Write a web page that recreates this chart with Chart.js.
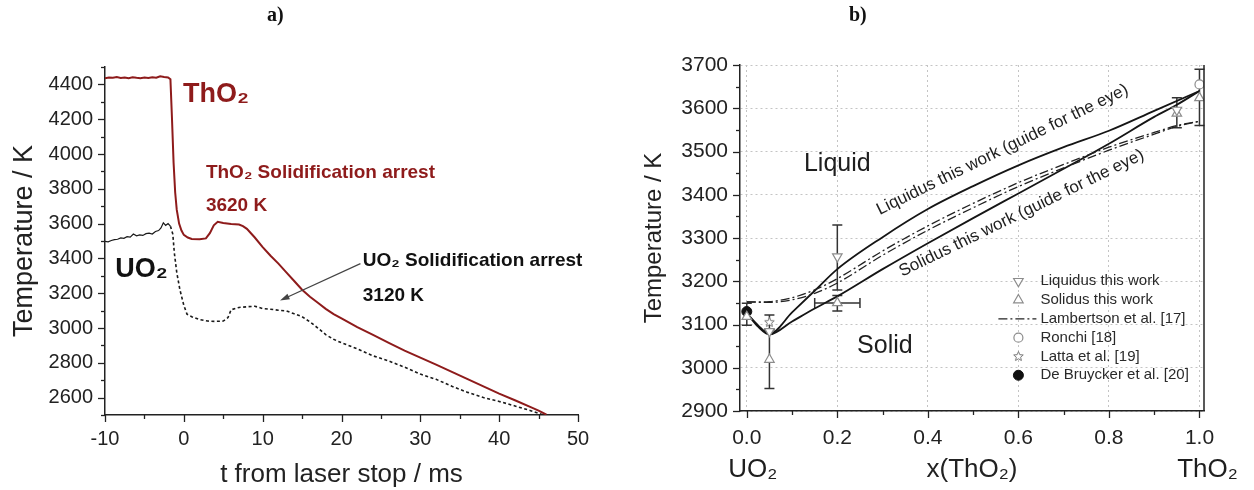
<!DOCTYPE html>
<html>
<head>
<meta charset="utf-8">
<script src="https://cdn.jsdelivr.net/npm/chart.js@4.4.1/dist/chart.umd.min.js"></script>
<style>
  html, body { margin: 0; padding: 0; background: #fff; }
  #wrap { position: relative; width: 1254px; height: 490px; overflow: hidden; }
  canvas { position: absolute; top: 0; }
  .tag { position: absolute; top: 3px; z-index: 2; font: bold 20px 'Liberation Serif', 'Times New Roman', serif; color: #111; }
</style>
</head>
<body>
<div id="wrap">
  <canvas id="chartA" style="left:0" width="620" height="490"></canvas>
  <canvas id="chartB" style="left:620px" width="634" height="490"></canvas>
  <div class="tag" style="left:267px">a)</div>
  <div class="tag" style="left:849px">b)</div>
</div>
<script>
// ---------- panel a : cooling curves ----------
const tTicksA = [-10, 0, 10, 20, 30, 40, 50];
const tMinorA = [-5, 5, 15, 25, 35, 45];
const tempTicksA = [2600, 2800, 3000, 3200, 3400, 3600, 3800, 4000, 4200, 4400];
const tempMinorA = [2500, 2700, 2900, 3100, 3300, 3500, 3700, 3900, 4100, 4300, 4500];

// ThO2 thermogram
const thTime = [-10, -9.5, -9, -8.5, -8, -7.5, -7, -6.5, -6, -5.5, -5, -4.5, -4, -3.5, -3, -2.5, -2, -1.7, -1.5, -1.3,
  -1.1, -0.9, -0.6, -0.3, 0, 0.5, 1, 2, 2.8, 3.3, 3.8, 4.3, 5, 6, 7, 7.5, 8, 9, 10, 11,
  12, 13, 14, 15, 16, 17, 18, 19, 20, 22, 24, 26, 28, 30, 32, 34, 36, 38, 40, 42, 44, 45, 46];
const thTemp = [4435, 4440, 4438, 4442, 4437, 4440, 4436, 4441, 4438, 4436, 4439, 4437, 4441, 4438, 4447, 4443, 4440, 4430, 4200, 3950,
  3780, 3680, 3600, 3560, 3535, 3520, 3512, 3510, 3515, 3545, 3590, 3610, 3603, 3598, 3595, 3585, 3570, 3520, 3465, 3415,
  3370, 3320, 3270, 3220, 3180, 3145, 3110, 3080, 3055, 3005, 2960, 2915, 2870, 2830, 2790, 2748, 2706, 2665, 2623, 2585, 2545, 2525, 2502];

// UO2 thermogram, laser on (solid)
const uoTime = [-10, -9.6, -9.2, -8.8, -8.4, -8, -7.6, -7.2, -6.8, -6.4, -6, -5.6, -5.2, -4.8, -4.4, -4, -3.6, -3.2, -2.9, -2.6, -2.3, -2, -1.7];
const uoTemp = [3498, 3495, 3503, 3508, 3510, 3518, 3515, 3525, 3522, 3540, 3530, 3535, 3532, 3542, 3545, 3540, 3555, 3560, 3575, 3605, 3590, 3600, 3585];
// UO2 thermogram, cooling (dashed)
const uoCoolTime = [-1.7, -1.4, -1.2, -0.9, -0.5, 0, 0.4, 1, 2, 3, 4, 5, 5.6, 6, 7, 8, 9, 10, 11, 12, 13, 14, 15, 16, 17, 18, 19, 20,
  22, 24, 26, 28, 30, 32, 34, 36, 38, 40, 42, 44, 45.5];
const uoCoolTemp = [3585, 3540, 3430, 3320, 3220, 3130, 3080, 3065, 3048, 3040, 3038, 3040, 3060, 3105, 3118, 3122, 3125, 3112, 3108, 3102, 3098, 3082, 3065, 3035, 3000, 2962, 2935, 2915,
  2880, 2840, 2810, 2775, 2735, 2705, 2665, 2630, 2600, 2578, 2552, 2525, 2502];

// ---------- panel b : phase diagram ----------
const xTicksB = [0, 0.2, 0.4, 0.6, 0.8, 1.0];
const xMinorB = [0.1, 0.3, 0.5, 0.7, 0.9];
const tempTicksB = [2900, 3000, 3100, 3200, 3300, 3400, 3500, 3600, 3700];
const tempMinorB = [2950, 3050, 3150, 3250, 3350, 3450, 3550, 3650];

const liqCurveX = [0, 0.025, 0.05, 0.1, 0.15, 0.2, 0.3, 0.4, 0.5, 0.6, 0.7, 0.8, 0.9, 1.0];
const liqCurveT = [3126, 3098, 3078, 3128, 3178, 3228, 3302, 3367, 3420, 3468, 3510, 3548, 3594, 3640];
const solCurveX = [0, 0.025, 0.05, 0.1, 0.15, 0.2, 0.3, 0.4, 0.5, 0.6, 0.7, 0.8, 0.9, 0.95, 1.0];
const solCurveT = [3126, 3095, 3077, 3107, 3137, 3165, 3228, 3288, 3346, 3403, 3460, 3518, 3580, 3608, 3640];
const lambLiqX = [0, 0.05, 0.1, 0.15, 0.2, 0.3, 0.4, 0.5, 0.6, 0.7, 0.8, 0.9, 0.95, 1.0];
const lambLiqT = [3152, 3153, 3162, 3180, 3206, 3270, 3328, 3380, 3428, 3470, 3510, 3544, 3560, 3570];
const lambSolX = [0, 0.05, 0.1, 0.15, 0.2, 0.3, 0.4, 0.5, 0.6, 0.7, 0.8, 0.9, 0.95, 1.0];
const lambSolT = [3152, 3151, 3157, 3172, 3196, 3260, 3318, 3370, 3419, 3462, 3503, 3540, 3558, 3570];

const liqX = [0.05, 0.2, 0.95];
const liqT = [3084, 3257, 3596];
const liqLo = [3084, 3180, 3596];
const liqHi = [3084, 3330, 3596];
const solX = [0, 0.05, 0.2, 0.95, 1.0];
const solT = [3118, 3019, 3150, 3588, 3624];
const solLo = [3098, 2952, 3131, 3555, 3560];
const solHi = [3149, 3088, 3167, 3624, 3690];
const solXErr = [0, 0, 0.05, 0, 0];
const ronchiX = [1.0];
const ronchiT = [3655];
const lattaX = [0.05];
const lattaT = [3105];
const lattaLo = [3088];
const lattaHi = [3122];
const bruyckerX = [0];
const bruyckerT = [3130];

const pts = (xs, ys) => xs.map((x, i) => ({ x: x, y: ys[i] }));

Chart.defaults.font.family = "'Liberation Sans', Arial, sans-serif";
Chart.defaults.color = '#1e1e1e';

// outward tick marks, long on labelled values, short in between
const tickMarks = {
  id: 'tickMarks',
  afterDraw(chart, args, opts) {
    const ctx = chart.ctx;
    ctx.save();
    ctx.strokeStyle = '#222';
    ctx.lineWidth = 1.3;
    ['x', 'y'].forEach(id => {
      const s = chart.scales[id];
      const marks = opts[id].major.map(v => [v, 7]).concat(opts[id].minor.map(v => [v, 4]));
      marks.forEach(([v, len]) => {
        const p = Math.round(s.getPixelForValue(v)) + 0.5;
        ctx.beginPath();
        if (id === 'x') { ctx.moveTo(p, s.top); ctx.lineTo(p, s.top + len); }
        else { ctx.moveTo(s.right, p); ctx.lineTo(s.right - len, p); }
        ctx.stroke();
      });
    });
    ctx.restore();
  }
};

// free text and arrows placed in data coordinates
const notes = {
  id: 'notes',
  afterDatasetsDraw(chart, args, opts) {
    const { ctx } = chart;
    const x = chart.scales.x, y = chart.scales.y;
    (opts.items || []).forEach(n => {
      ctx.save();
      ctx.font = n.font;
      ctx.fillStyle = n.color || '#1e1e1e';
      ctx.textAlign = n.align || 'left';
      ctx.textBaseline = 'middle';
      const px = x.getPixelForValue(n.x) + (n.dx || 0);
      const py = n.yPx !== undefined ? n.yPx : y.getPixelForValue(n.y);
      ctx.translate(px, py);
      if (n.angle) ctx.rotate(n.angle * Math.PI / 180);
      ctx.fillText(n.text, 0, 0);
      ctx.restore();
    });
    (opts.arrows || []).forEach(a => {
      const x1 = x.getPixelForValue(a.from[0]), y1 = y.getPixelForValue(a.from[1]);
      const x2 = x.getPixelForValue(a.to[0]), y2 = y.getPixelForValue(a.to[1]);
      const ang = Math.atan2(y2 - y1, x2 - x1);
      ctx.save();
      ctx.strokeStyle = '#444';
      ctx.fillStyle = '#444';
      ctx.lineWidth = 1.2;
      ctx.beginPath();
      ctx.moveTo(x1, y1);
      ctx.lineTo(x2 - 6 * Math.cos(ang), y2 - 6 * Math.sin(ang));
      ctx.stroke();
      ctx.beginPath();
      ctx.moveTo(x2, y2);
      ctx.lineTo(x2 - 10 * Math.cos(ang - 0.3), y2 - 10 * Math.sin(ang - 0.3));
      ctx.lineTo(x2 - 10 * Math.cos(ang + 0.3), y2 - 10 * Math.sin(ang + 0.3));
      ctx.closePath();
      ctx.fill();
      ctx.restore();
    });
  }
};

new Chart(document.getElementById('chartA'), {
  type: 'line',
  data: {
    datasets: [
      { label: 'ThO2', data: pts(thTime, thTemp), borderColor: '#8e1b1b', borderWidth: 2, pointRadius: 0 },
      { label: 'UO2', data: pts(uoTime, uoTemp), borderColor: '#1a1a1a', borderWidth: 1.2, pointRadius: 0 },
      { label: 'UO2 cooling', data: pts(uoCoolTime, uoCoolTemp), borderColor: '#1a1a1a', borderWidth: 1.6, borderDash: [3, 2.5], pointRadius: 0 }
    ]
  },
  options: {
    responsive: false,
    animation: false,
    layout: { padding: { top: 67, right: 42, left: 0, bottom: 0 } },
    plugins: {
      legend: { display: false },
      tooltip: { enabled: false },
      tickMarks: { x: { major: tTicksA, minor: tMinorA }, y: { major: tempTicksA, minor: tempMinorA } },
      notes: {
        items: [
          { text: 'ThO\u2082', x: -0.1, y: 4340, font: 'bold 27px "Liberation Sans", Arial', color: '#8e1b1b' },
          { text: 'ThO\u2082 Solidification arrest', x: 2.8, y: 3895, font: 'bold 19px "Liberation Sans", Arial', color: '#8e1b1b' },
          { text: '3620 K', x: 2.8, y: 3705, font: 'bold 19px "Liberation Sans", Arial', color: '#8e1b1b' },
          { text: 'UO\u2082', x: -8.7, y: 3335, font: 'bold 27px "Liberation Sans", Arial', color: '#111' },
          { text: 'UO\u2082 Solidification arrest', x: 22.7, y: 3385, font: 'bold 19px "Liberation Sans", Arial', color: '#111' },
          { text: '3120 K', x: 22.7, y: 3185, font: 'bold 19px "Liberation Sans", Arial', color: '#111' }
        ],
        arrows: [ { from: [22.4, 3370], to: [12.2, 3158] } ]
      }
    },
    scales: {
      x: {
        type: 'linear', min: -10, max: 50,
        afterBuildTicks: s => { s.ticks = tTicksA.map(v => ({ value: v })); },
        afterFit: s => { s.height = 75; },
        grid: { display: false, drawTicks: false },
        border: { display: true, color: '#222', width: 1.5 },
        ticks: { padding: 12, font: { size: 20 }, color: '#222', callback: v => String(v) },
        title: { display: true, text: 't from laser stop / ms', font: { size: 26 }, color: '#222', padding: { top: 0, bottom: 0 } }
      },
      y: {
        min: 2500, max: 4500,
        afterBuildTicks: s => { s.ticks = tempTicksA.map(v => ({ value: v })); },
        afterFit: s => { s.width = 105; },
        grid: { display: false, drawTicks: false },
        border: { display: true, color: '#222', width: 1.5 },
        ticks: { padding: 12, font: { size: 20 }, color: '#222', callback: v => String(v) },
        title: { display: true, text: 'Temperature / K', font: { size: 27 }, color: '#222', padding: { top: 8, bottom: 0 } }
      }
    }
  },
  plugins: [tickMarks, notes]
});

// ---------- panel b helpers ----------
function starImage(r, color) {
  const c = document.createElement('canvas');
  c.width = c.height = 2 * r + 3;
  const g = c.getContext('2d');
  g.beginPath();
  for (let i = 0; i < 10; i++) {
    const a = -Math.PI / 2 + i * Math.PI / 5;
    const rr = i % 2 ? r * 0.45 : r;
    g.lineTo(r + 1.5 + rr * Math.cos(a), r + 1.5 + rr * Math.sin(a));
  }
  g.closePath();
  g.fillStyle = '#fff';
  g.fill();
  g.strokeStyle = color;
  g.lineWidth = 1;
  g.stroke();
  return c;
}

const errorBars = {
  id: 'errorBars',
  beforeDatasetsDraw(chart) {
    const { ctx } = chart;
    const x = chart.scales.x, y = chart.scales.y;
    ctx.save();
    ctx.strokeStyle = '#333';
    ctx.lineWidth = 1.5;
    chart.data.datasets.forEach(ds => {
      if (!ds.errLo) return;
      ds.data.forEach((p, i) => {
        const px = x.getPixelForValue(p.x);
        const lo = y.getPixelForValue(ds.errLo[i]), hi = y.getPixelForValue(ds.errHi[i]);
        if (hi !== lo) {
          ctx.beginPath();
          ctx.moveTo(px, lo); ctx.lineTo(px, hi);
          ctx.moveTo(px - 5, lo); ctx.lineTo(px + 5, lo);
          ctx.moveTo(px - 5, hi); ctx.lineTo(px + 5, hi);
          ctx.stroke();
        }
        const xe = ds.errX ? ds.errX[i] : 0;
        if (xe) {
          const py = y.getPixelForValue(p.y);
          const l = x.getPixelForValue(p.x - xe), r = x.getPixelForValue(p.x + xe);
          ctx.beginPath();
          ctx.moveTo(l, py); ctx.lineTo(r, py);
          ctx.moveTo(l, py - 5); ctx.lineTo(l, py + 5);
          ctx.moveTo(r, py - 5); ctx.lineTo(r, py + 5);
          ctx.stroke();
        }
      });
    });
    ctx.restore();
  }
};

const frameRight = {
  id: 'frameRight',
  afterDraw(chart) {
    const { ctx, chartArea: a } = chart;
    ctx.save();
    ctx.strokeStyle = '#222';
    ctx.lineWidth = 1.5;
    ctx.beginPath();
    ctx.moveTo(a.right, a.top);
    ctx.lineTo(a.right, a.bottom);
    ctx.stroke();
    ctx.restore();
  }
};

const innerLegend = {
  id: 'innerLegend',
  afterDraw(chart, args, opts) {
    const { ctx } = chart;
    const sx = chart.scales.x.getPixelForValue(opts.x);
    const sy = chart.scales.y.getPixelForValue(opts.y);
    ctx.save();
    ctx.font = '15px "Liberation Sans", Arial';
    ctx.textBaseline = 'middle';
    ctx.fillStyle = '#2a2a2a';
    chart.data.datasets.forEach(ds => {
      if (ds.legendRow === undefined) return;
      const yy = sy + ds.legendRow * opts.step;
      ctx.save();
      if (ds.showLine === false) {
        ctx.strokeStyle = ds.borderColor;
        ctx.fillStyle = ds.backgroundColor;
        ctx.lineWidth = ds.borderWidth;
        Chart.helpers.drawPoint(ctx, { pointStyle: ds.pointStyle, rotation: ds.pointRotation || 0, radius: ds.pointRadius, borderWidth: ds.borderWidth }, sx, yy);
      } else {
        ctx.strokeStyle = ds.borderColor;
        ctx.lineWidth = ds.borderWidth;
        ctx.setLineDash(ds.borderDash || []);
        ctx.beginPath();
        ctx.moveTo(sx - 20, yy); ctx.lineTo(sx + 18, yy);
        ctx.stroke();
      }
      ctx.restore();
      ctx.fillText(ds.label, sx + 22, yy);
    });
    ctx.restore();
  }
};

const grayPt = '#8c8c8c';
const dashDot = [9, 3, 2, 3];

new Chart(document.getElementById('chartB'), {
  type: 'line',
  data: {
    datasets: [
      { label: 'Liquidus this work', data: pts(liqX, liqT), errLo: liqLo, errHi: liqHi, showLine: false, pointStyle: 'triangle', pointRotation: 180,
        pointRadius: 5.5, borderColor: grayPt, backgroundColor: '#fff', borderWidth: 1.2, legendRow: 0 },
      { label: 'Solidus this work', data: pts(solX, solT), errLo: solLo, errHi: solHi, errX: solXErr, showLine: false, pointStyle: 'triangle',
        pointRadius: 5.5, borderColor: grayPt, backgroundColor: '#fff', borderWidth: 1.2, legendRow: 1 },
      { label: 'Ronchi [18]', data: pts(ronchiX, ronchiT), showLine: false, pointStyle: 'circle',
        pointRadius: 4.5, borderColor: grayPt, backgroundColor: '#fff', borderWidth: 1.2, legendRow: 3 },
      { label: 'Latta et al. [19]', data: pts(lattaX, lattaT), errLo: lattaLo, errHi: lattaHi, showLine: false, pointStyle: starImage(5, '#777'),
        pointRadius: 5, borderColor: '#777', backgroundColor: '#fff', borderWidth: 1, legendRow: 4 },
      { label: 'De Bruycker et al. [20]', data: pts(bruyckerX, bruyckerT), showLine: false, pointStyle: 'circle',
        pointRadius: 5, borderColor: '#111', backgroundColor: '#111', borderWidth: 1, legendRow: 5 },
      { label: 'Lambertson et al. [17]', data: pts(lambLiqX, lambLiqT), borderColor: '#222', borderWidth: 1.3, borderDash: dashDot,
        pointRadius: 0, cubicInterpolationMode: 'monotone', legendRow: 2 },
      { label: 'Lambertson solidus', data: pts(lambSolX, lambSolT), borderColor: '#222', borderWidth: 1.3, borderDash: dashDot,
        pointRadius: 0, cubicInterpolationMode: 'monotone' },
      { label: 'Liquidus curve', data: pts(liqCurveX, liqCurveT), borderColor: '#151515', borderWidth: 1.8,
        pointRadius: 0, cubicInterpolationMode: 'monotone' },
      { label: 'Solidus curve', data: pts(solCurveX, solCurveT), borderColor: '#151515', borderWidth: 1.8,
        pointRadius: 0, cubicInterpolationMode: 'monotone' }
    ]
  },
  options: {
    responsive: false,
    animation: false,
    layout: { padding: { top: 65, right: 50, left: 0, bottom: 0 } },
    plugins: {
      legend: { display: false },
      tooltip: { enabled: false },
      tickMarks: { x: { major: xTicksB, minor: xMinorB }, y: { major: tempTicksB, minor: tempMinorB } },
      innerLegend: { x: 0.6, y: 3200, step: 18.8 },
      notes: {
        items: [
          { text: 'Liquid', x: 0.2, y: 3470, font: '25px "Liberation Sans", Arial', align: 'center' },
          { text: 'Solid', x: 0.305, y: 3049, font: '25px "Liberation Sans", Arial', align: 'center' },
          { text: 'Liquidus this work (guide for the eye)', x: 0.565, y: 3504, angle: -26, font: '17px "Liberation Sans", Arial', align: 'center' },
          { text: 'Solidus this work (guide for the eye)', x: 0.607, y: 3357, angle: -26, font: '17px "Liberation Sans", Arial', align: 'center' },
          { text: 'UO\u2082', x: 0, dx: 6, yPx: 470, font: '26px "Liberation Sans", Arial', align: 'center' },
          { text: 'ThO\u2082', x: 1.0, dx: 8, yPx: 470, font: '26px "Liberation Sans", Arial', align: 'center' }
        ]
      }
    },
    scales: {
      x: {
        type: 'linear', min: -0.015, max: 1.01,
        afterBuildTicks: s => { s.ticks = xTicksB.map(v => ({ value: v })); },
        afterFit: s => { s.height = 79; },
        grid: { display: true, drawTicks: false, color: '#c4c4c4', lineWidth: 1 },
        border: { display: true, color: '#222', width: 1.5, dash: [2, 3] },
        ticks: { padding: 15, font: { size: 21 }, color: '#222', callback: v => v.toFixed(1) },
        title: { display: true, text: 'x(ThO\u2082)', font: { size: 26 }, color: '#222', padding: { top: 0, bottom: 5 } }
      },
      y: {
        min: 2900, max: 3700,
        afterBuildTicks: s => { s.ticks = tempTicksB.map(v => ({ value: v })); },
        afterFit: s => { s.width = 120; },
        grid: { display: true, drawTicks: false, color: '#c4c4c4', lineWidth: 1 },
        border: { display: true, color: '#222', width: 1.5, dash: [2, 3] },
        ticks: { padding: 12, font: { size: 21 }, color: '#222', callback: v => String(v) },
        title: { display: true, text: 'Temperature / K', font: { size: 24 }, color: '#222', padding: { top: 20, bottom: 0 } }
      }
    }
  },
  plugins: [errorBars, tickMarks, frameRight, innerLegend, notes]
});
</script>
</body>
</html>
